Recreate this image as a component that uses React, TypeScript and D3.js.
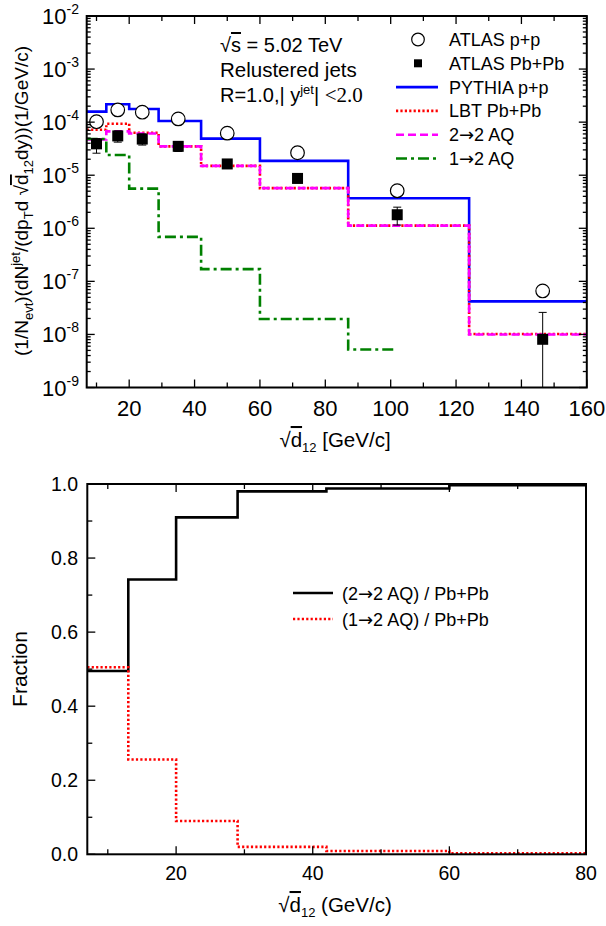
import React from 'react';
import * as d3 from 'd3';

// ---------- data (top panel) ----------
const binEdges = [7, 13, 20, 29, 42, 60, 87, 124, 160];
const pythiaPP = [1.58e-4, 2.18e-4, 1.77e-4, 1.05e-4, 4.9e-5, 1.86e-5, 3.67e-6, 4.2e-8];
const lbtPbPb = [7.2e-5, 9.3e-5, 6.3e-5, 3.5e-5, 1.5e-5, 5.7e-6, 1.12e-6, 1.02e-8];
const aq22 = [4.7e-5, 6.7e-5, 6.1e-5, 3.5e-5, 1.5e-5, 5.7e-6, 1.12e-6, 1.0e-8];
const aq12Edges = [7, 13, 20, 29, 42, 60, 87, 102];
const aq12 = [4.8e-5, 2.4e-5, 5.6e-6, 6.9e-7, 1.7e-7, 1.95e-8, 5.2e-9];
const atlasX = [10, 16.5, 24, 35, 50, 71.5, 102, 146.5];
const atlasPP = [1.02e-4, 1.7e-4, 1.54e-4, 1.15e-4, 6.2e-5, 2.65e-5, 5.1e-6, 6.6e-8];
const atlasPbPb = [3.9e-5, 5.5e-5, 4.8e-5, 3.5e-5, 1.63e-5, 8.7e-6, 1.8e-6, 8.1e-9];
const atlasPbPbHi = [4.9e-5, 6.8e-5, 6.0e-5, 4.2e-5, 1.8e-5, 1.0e-5, 2.5e-6, 2.6e-8];
const atlasPbPbLo = [2.6e-5, 4.2e-5, 3.7e-5, 2.8e-5, 1.45e-5, 7.2e-6, 1.15e-6, 5e-10];
const topYExponents = [-9, -8, -7, -6, -5, -4, -3, -2];
const topXTicks = [20, 40, 60, 80, 100, 120, 140, 160];
const topXMinor = [10, 30, 50, 70, 90, 110, 130, 150];
const legendTop: [string, string, string][] = [
  ['ATLAS p+p', '', ''], ['ATLAS Pb+Pb', '', ''], ['PYTHIA p+p', '', ''], ['LBT Pb+Pb', '', ''],
  ['2', '\u2192', '2 AQ'], ['1', '\u2192', '2 AQ'],
];

// ---------- data (bottom panel) ----------
const fracEdges = [7, 13, 20, 29, 42, 60, 87];
const frac22 = [0.495, 0.742, 0.91, 0.98, 0.988, 0.997];
const frac12 = [0.505, 0.256, 0.09, 0.02, 0.009, 0.003];
const botYTicks = [0, 0.2, 0.4, 0.6, 0.8, 1.0];
const botYMinor = [0.1, 0.3, 0.5, 0.7, 0.9];
const botXTicks = [20, 40, 60, 80];
const botXMinor = [10, 30, 50, 70];
const legendBot: [string, string][] = [['(2', '2 AQ) / Pb+Pb'], ['(1', '2 AQ) / Pb+Pb']];

const FONT = "'Liberation Sans', Arial, Helvetica, sans-serif";
const ARROWFONT = "'DejaVu Sans', sans-serif";
const BLUE = '#0000ff';
const RED = '#ff0000';
const MAGENTA = '#ff00ff';
const GREEN = '#008000';

function stepPts(edges: number[], vals: number[]): [number, number][] {
  const pts: [number, number][] = vals.map((v, i) => [edges[i], v]);
  pts.push([edges[vals.length], vals[vals.length - 1]]);
  return pts;
}

export default function App() {
  const tx = d3.scaleLinear().domain([7, 160]).range([86.7, 586.8]);
  const ty = d3.scaleLog().domain([1e-9, 1e-2]).range([387.5, 16]);
  const tL = tx.range()[0], tR = tx.range()[1], tT = ty.range()[1], tB = ty.range()[0];

  const bx = d3.scaleLinear().domain([7, 80]).range([87.3, 586]);
  const by = d3.scaleLinear().domain([0, 1]).range([854.3, 484]);
  const bL = bx.range()[0], bR = bx.range()[1], bT = by.range()[1], bB = by.range()[0];

  const topLine = d3.line<[number, number]>().x(d => tx(d[0])).y(d => ty(d[1])).curve(d3.curveStepAfter);
  const botLine = d3.line<[number, number]>().x(d => bx(d[0])).y(d => by(d[1])).curve(d3.curveStepAfter);

  const logTicks: { v: number; major: boolean }[] = [];
  for (let e = -9; e <= -3; e++) {
    for (let m = 1; m <= 9; m++) logTicks.push({ v: m * Math.pow(10, e), major: m === 1 });
  }
  logTicks.push({ v: 1e-2, major: true });

  const series = [
    { vals: pythiaPP, edges: binEdges, color: BLUE, dash: undefined as string | undefined },
    { vals: lbtPbPb, edges: binEdges, color: RED, dash: '2.2,2.2' },
    { vals: aq22, edges: binEdges, color: MAGENTA, dash: '8,4' },
    { vals: aq12, edges: aq12Edges, color: GREEN, dash: '11,4,3,4' },
  ];

  const legY0 = 46, legDy = 23.8;

  return (
    <svg width={606} height={926} style={{ position: 'absolute', left: 0, top: 0, background: '#fff' }}
      fontFamily={FONT}>
      <defs>
        <clipPath id="clipTop"><rect x={tL} y={tT} width={tR - tL} height={tB - tT} /></clipPath>
        <clipPath id="clipBot"><rect x={bL} y={bT} width={bR - bL} height={bB - bT} /></clipPath>
      </defs>
      <rect x={0} y={0} width={606} height={926} fill="#fff" />

      {/* ================= TOP PANEL ================= */}
      <g clipPath="url(#clipTop)">
        {series.map((s, i) => (
          <path key={i} d={topLine(stepPts(s.edges, s.vals)) || ''} fill="none" stroke={s.color}
            strokeWidth={2.6} strokeDasharray={s.dash} />
        ))}
        {atlasX.map((x, i) => (
          <g key={'e' + i} stroke="#000" strokeWidth={1}>
            <line x1={tx(x)} x2={tx(x)} y1={ty(atlasPbPbHi[i])} y2={ty(atlasPbPbLo[i])} />
            <line x1={tx(x) - 4} x2={tx(x) + 4} y1={ty(atlasPbPbHi[i])} y2={ty(atlasPbPbHi[i])} />
            <line x1={tx(x) - 4} x2={tx(x) + 4} y1={ty(atlasPbPbLo[i])} y2={ty(atlasPbPbLo[i])} />
          </g>
        ))}
        {atlasX.map((x, i) => (
          <rect key={'s' + i} x={tx(x) - 5.5} y={ty(atlasPbPb[i]) - 5.5} width={11} height={11} fill="#000" />
        ))}
        {atlasX.map((x, i) => (
          <circle key={'c' + i} cx={tx(x)} cy={ty(atlasPP[i])} r={6.8} fill="#fff" stroke="#000" strokeWidth={1.2} />
        ))}
      </g>

      <g stroke="#000" strokeWidth={1.3}>
        {logTicks.map((t, i) => (
          <g key={'ly' + i}>
            <line x1={tL} x2={tL + (t.major ? 8 : 4)} y1={ty(t.v)} y2={ty(t.v)} />
            <line x1={tR} x2={tR - (t.major ? 8 : 4)} y1={ty(t.v)} y2={ty(t.v)} />
          </g>
        ))}
        {topXTicks.concat(topXMinor).map((v, i) => {
          const len = topXTicks.includes(v) ? 8 : 5;
          return (
            <g key={'lx' + i}>
              <line x1={tx(v)} x2={tx(v)} y1={tB} y2={tB - len} />
              <line x1={tx(v)} x2={tx(v)} y1={tT} y2={tT + len} />
            </g>
          );
        })}
      </g>
      <rect x={tL} y={tT} width={tR - tL} height={tB - tT} fill="none" stroke="#000" strokeWidth={2} />

      {topYExponents.map(e => (
        <text key={'yl' + e} x={79} y={ty(Math.pow(10, e)) + 8} textAnchor="end" fontSize={22}>
          10<tspan fontSize={14} dy={-10}>{String(e)}</tspan>
        </text>
      ))}
      {topXTicks.map(v => (
        <text key={'xl' + v} x={tx(v)} y={tB + 28} textAnchor="middle" fontSize={22}>{v}</text>
      ))}

      <text x={335} y={447} textAnchor="middle" fontSize={20.5}>
        {'\u221A'}<tspan style={{ textDecoration: 'overline' }}>d</tspan><tspan fontSize={13} dy={5}>12</tspan><tspan dy={-5}> [GeV/c]</tspan>
      </text>
      <text transform="translate(28,201) rotate(-90)" textAnchor="middle" fontSize={19}>
        (1/N<tspan fontSize={13} dy={5}>evt</tspan><tspan dy={-5}>)(dN</tspan><tspan fontSize={13} dy={-8}>jet</tspan><tspan dy={8}>/(dp</tspan><tspan fontSize={13} dy={5}>T</tspan><tspan dy={-5}>d {'\u221A'}</tspan><tspan style={{ textDecoration: 'overline' }}>d</tspan><tspan fontSize={13} dy={5}>12</tspan><tspan dy={-5}>dy))(1/GeV/c)</tspan>
      </text>

      <text x={220} y={52} fontSize={20}>
        {'\u221A'}<tspan style={{ textDecoration: 'overline' }}>s</tspan> = 5.02 TeV
      </text>
      <text x={220} y={77} fontSize={20.5}>Relustered jets</text>
      <text x={220} y={102} fontSize={20}>
        R=1.0,| y<tspan fontSize={13} dy={-8}>jet</tspan><tspan dy={8}>| </tspan><tspan fontFamily="'Liberation Serif', 'Times New Roman', serif" fontSize={21}>&lt;2.0</tspan>
      </text>

      <g>
        <circle cx={418} cy={legY0 - 6.5} r={6.3} fill="#fff" stroke="#000" strokeWidth={1.2} />
        <rect x={414} y={legY0 + legDy - 10.5} width={8} height={8} fill="#000" />
        {series.map((s, i) => (
          <line key={'lg' + i} x1={396} x2={438} y1={legY0 + legDy * (i + 2) - 6.5} y2={legY0 + legDy * (i + 2) - 6.5}
            stroke={s.color} strokeWidth={2.6} strokeDasharray={s.dash} />
        ))}
        {legendTop.map((t, i) => (
          <text key={'lt' + i} x={449} y={legY0 + legDy * i} fontSize={18}>
            {t[0]}{t[1] ? <tspan fontFamily={ARROWFONT}>{t[1]}</tspan> : null}{t[2]}
          </text>
        ))}
      </g>

      {/* ================= BOTTOM PANEL ================= */}
      <g clipPath="url(#clipBot)">
        <path d={botLine(stepPts(fracEdges, frac22)) || ''} fill="none" stroke="#000" strokeWidth={2.6} />
        <path d={botLine(stepPts(fracEdges, frac12)) || ''} fill="none" stroke={RED} strokeWidth={2.6} strokeDasharray="2.2,2.2" />
      </g>
      <g stroke="#000" strokeWidth={1.3}>
        {botYTicks.concat(botYMinor).map((v, i) => (
          <line key={'by' + i} x1={bL} x2={bL + (botYTicks.includes(v) ? 8 : 5)} y1={by(v)} y2={by(v)} />
        ))}
        {botXTicks.concat(botXMinor).map((v, i) => {
          const len = botXTicks.includes(v) ? 8 : 5;
          return (
            <g key={'bx' + i}>
              <line x1={bx(v)} x2={bx(v)} y1={bB} y2={bB - len} />
              <line x1={bx(v)} x2={bx(v)} y1={bT} y2={bT + len} />
            </g>
          );
        })}
      </g>
      <rect x={bL} y={bT} width={bR - bL} height={bB - bT} fill="none" stroke="#000" strokeWidth={2} />
      {botYTicks.map(v => (
        <text key={'byl' + v} x={78} y={by(v) + 7} textAnchor="end" fontSize={19.5}>{v.toFixed(1)}</text>
      ))}
      {botXTicks.map(v => (
        <text key={'bxl' + v} x={bx(v)} y={bB + 26} textAnchor="middle" fontSize={19.5}>{v}</text>
      ))}
      <text x={335} y={912} textAnchor="middle" fontSize={20.5}>
        {'\u221A'}<tspan style={{ textDecoration: 'overline' }}>d</tspan><tspan fontSize={13} dy={5}>12</tspan><tspan dy={-5}> (GeV/c)</tspan>
      </text>
      <text transform="translate(27,669) rotate(-90)" textAnchor="middle" fontSize={21}>Fraction</text>

      <line x1={293} x2={333} y1={593} y2={593} stroke="#000" strokeWidth={2.6} />
      <line x1={293} x2={333} y1={619} y2={619} stroke={RED} strokeWidth={2.6} strokeDasharray="2.2,2.2" />
      {legendBot.map((t, i) => (
        <text key={'lb' + i} x={342} y={599.5 + 26 * i} fontSize={18}>
          {t[0]}<tspan fontFamily={ARROWFONT}>{'\u2192'}</tspan>{t[1]}
        </text>
      ))}
    </svg>
  );
}
